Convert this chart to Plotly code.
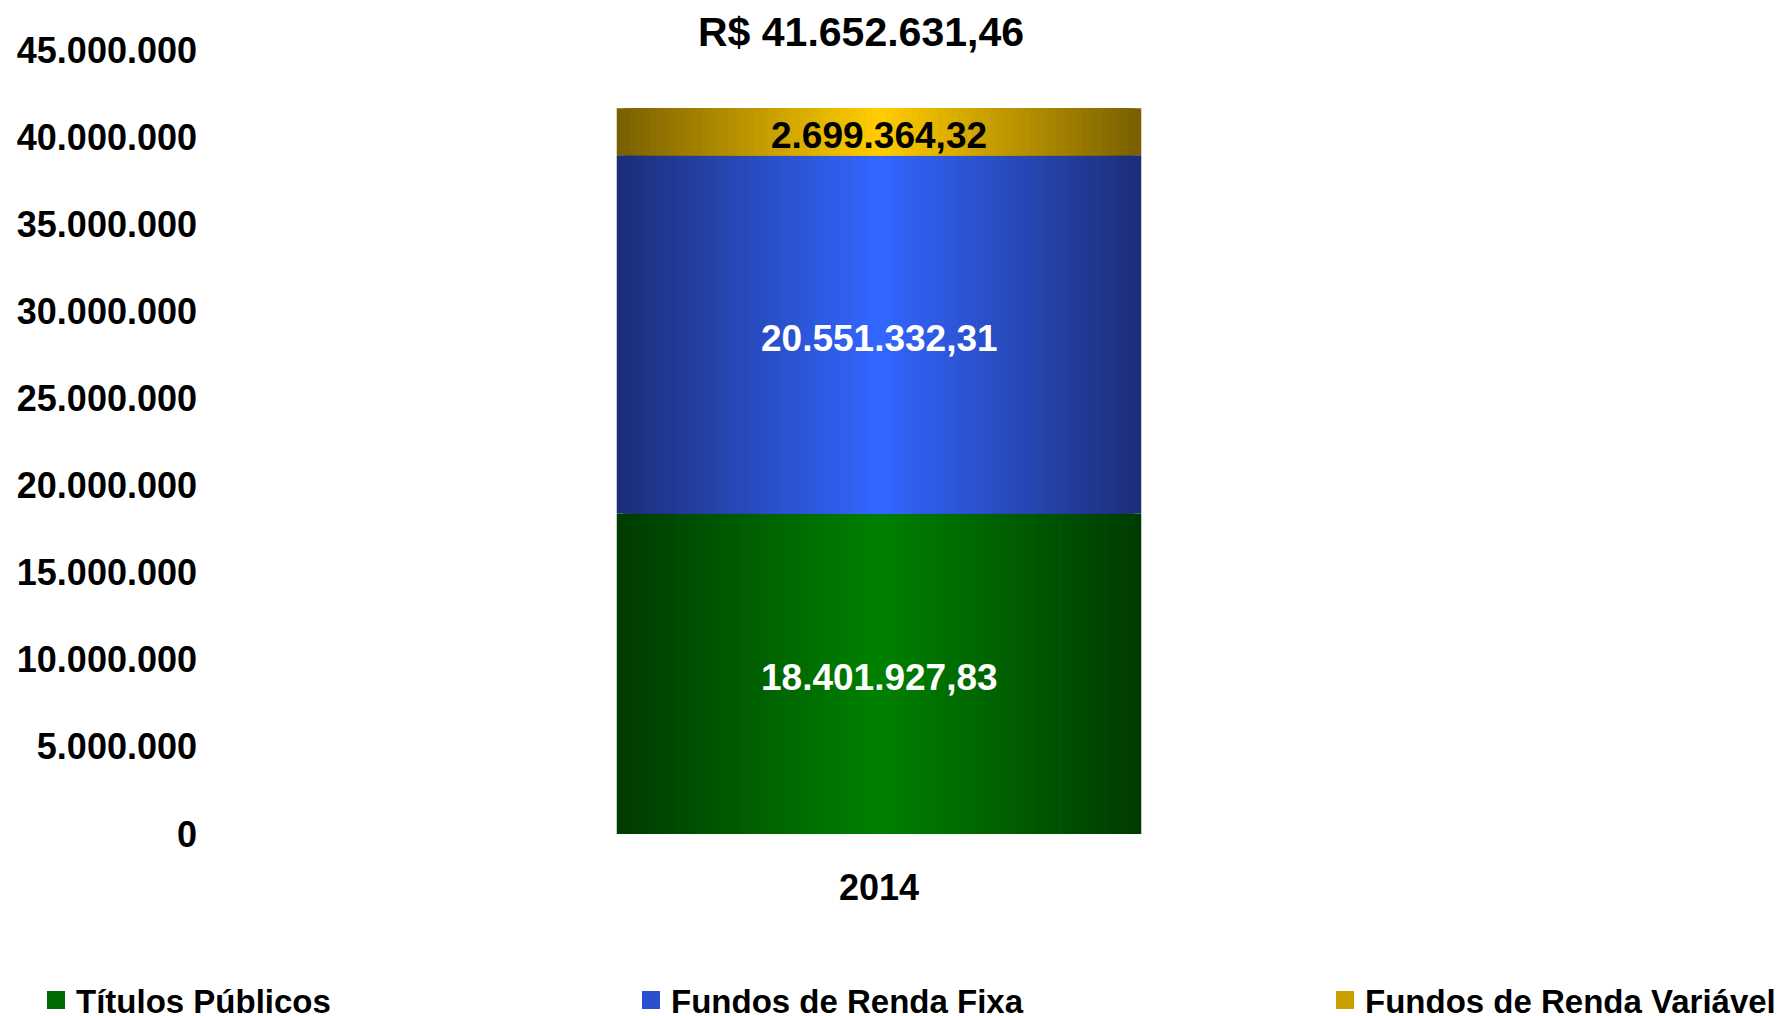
import plotly.graph_objects as go

# dados
anos = ['2014']
series = ['Títulos Públicos', 'Fundos de Renda Fixa', 'Fundos de Renda Variável']
valores = [18401927.83, 20551332.31, 2699364.32]
titulo = 'R$ 41.652.631,46'
ticks_y = [0, 5000000, 10000000, 15000000, 20000000, 25000000, 30000000, 35000000, 40000000, 45000000]

# cores (borda escura -> centro claro) para simular o degrade
cores_borda = [(0, 60, 0), (28, 46, 120), (122, 96, 0)]
cores_centro = [(0, 128, 0), (51, 102, 255), (255, 204, 0)]
cores_legenda = ['#006a00', '#2a50d2', '#c8a000']
cores_texto = ['white', 'white', 'black']

FONTE = 'Liberation Sans, Arial, sans-serif'
LARG = 0.392
N = 40
W, H = 1776, 1008  # a pagina tem 8px de margem no body


def mistura(a, b, t):
    return 'rgb(%d,%d,%d)' % tuple(round(a[k] + (b[k] - a[k]) * t) for k in range(3))


def br(v):
    s = f'{v:,.2f}'
    return s.replace(',', 'X').replace('.', ',').replace('X', '.')


fig = go.Figure()

base = 0
rotulos = []
for j, v in enumerate(valores):
    for i in range(N):
        t = i / (N - 1)
        fig.add_bar(x=anos, y=[v], base=[base], width=LARG * (1 - i / N),
                    marker_color=mistura(cores_borda[j], cores_centro[j], t),
                    marker_line_width=0, showlegend=False, hoverinfo='skip')
    # rotulo no meio de cada segmento (indice 0 = categoria '2014')
    rotulos.append(dict(x=anos.index('2014'), y=base + v / 2, text=br(v), showarrow=False,
                        yshift=-4, xanchor='center', yanchor='middle',
                        font=dict(family=FONTE, size=37, color=cores_texto[j], weight='bold')))
    base += v

# entradas da legenda (tres legendas separadas para posicionar como no original)
leg_x = [28, 623, 1317]
for j, nome in enumerate(series):
    nome_leg = 'legend' if j == 0 else 'legend%d' % (j + 1)
    fig.add_scatter(x=anos, y=[None], mode='markers', name=nome,
                    marker=dict(symbol='square', size=16, color=cores_legenda[j],
                                line=dict(width=2, color=cores_legenda[j])),
                    legend=nome_leg, hoverinfo='skip')

legs = {}
for j in range(3):
    chave = 'legend' if j == 0 else 'legend%d' % (j + 1)
    legs[chave] = dict(xref='container', yref='container', x=leg_x[j] / W,
                       y=1 - 992 / H, xanchor='left', yanchor='middle',
                       font=dict(family=FONTE, size=33, color='black', weight='bold'),
                       bgcolor='rgba(0,0,0,0)', itemsizing='trace')

fig.update_layout(
    width=W, height=H,
    barmode='overlay',
    separators=',.',
    plot_bgcolor='white', paper_bgcolor='white',
    margin=dict(l=202, r=236, t=42, b=182, autoexpand=False),
    title=dict(text=titulo, xref='container', yref='container', x=853 / W,
               y=1 - 24 / H, xanchor='center', yanchor='middle',
               font=dict(family=FONTE, size=41, color='black', weight='bold')),
    xaxis=dict(type='category', range=[-0.5, len(anos) - 0.5],
               showgrid=False, showline=False, zeroline=False,
               ticks='', ticklabelstandoff=29, automargin=False,
               tickfont=dict(family=FONTE, size=36, color='black', weight='bold')),
    yaxis=dict(range=[0, 45000000], tickvals=ticks_y, tickformat=',d',
               showgrid=False, showline=False, zeroline=False, ticks='', automargin=False,
               ticklabelstandoff=12,
               tickfont=dict(family=FONTE, size=36, color='black', weight='bold')),
    annotations=rotulos,
    **legs
)

fig.write_html('out.html')
